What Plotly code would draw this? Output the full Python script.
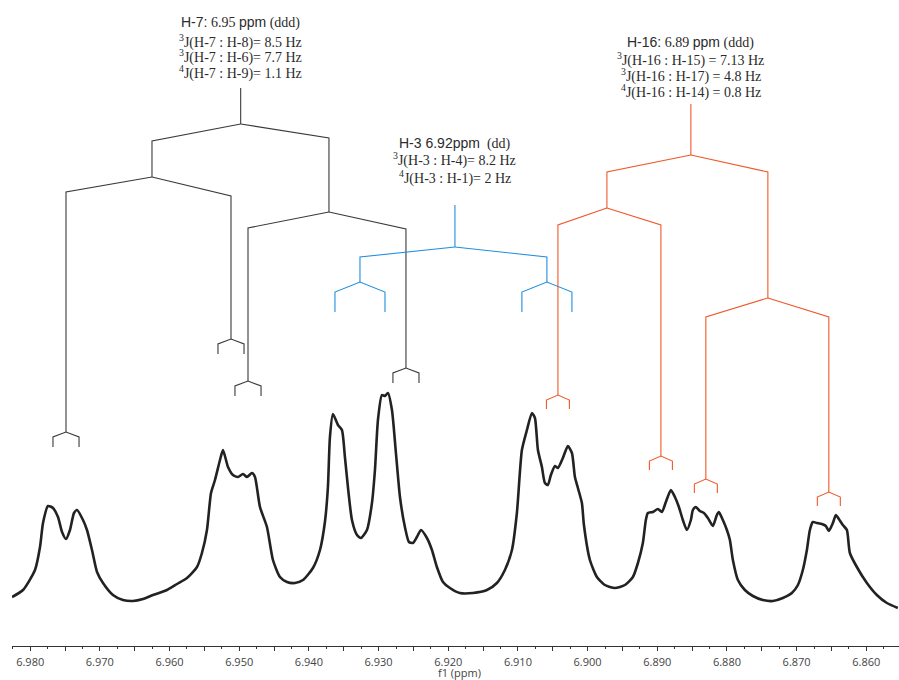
import plotly.graph_objects as go

# ---------------------------------------------------------------------------
# 1H NMR spectrum, aromatic region (f1, ppm) -- intensity in arbitrary units
# ---------------------------------------------------------------------------
shift_ppm = [
    6.98261, 6.98103, 6.97931, 6.97859, 6.97816, 6.97744, 6.97673, 6.97601, 6.97543, 6.97486,
    6.97429, 6.97371, 6.97328, 6.97242, 6.97185, 6.97113, 6.97041, 6.96955, 6.96812, 6.96668,
    6.96525, 6.96381, 6.96238, 6.96037, 6.95893, 6.95750, 6.95606, 6.95535, 6.95463, 6.95405,
    6.95348, 6.95276, 6.95233, 6.95161, 6.95090, 6.95018, 6.94946, 6.94889, 6.94817, 6.94774,
    6.94702, 6.94602, 6.94516, 6.94415, 6.94315, 6.94200, 6.94085, 6.93942, 6.93841, 6.93770,
    6.93727, 6.93698, 6.93655, 6.93583, 6.93526, 6.93483, 6.93440, 6.93382, 6.93310, 6.93253,
    6.93167, 6.93095, 6.93052, 6.93009, 6.92952, 6.92909, 6.92866, 6.92808, 6.92751, 6.92693,
    6.92622, 6.92564, 6.92507, 6.92450, 6.92392, 6.92306, 6.92234, 6.92163, 6.92076, 6.91976,
    6.91833, 6.91646, 6.91445, 6.91302, 6.91187, 6.91086, 6.91015, 6.90943, 6.90871, 6.90799,
    6.90756, 6.90713, 6.90656, 6.90613, 6.90570, 6.90527, 6.90469, 6.90426, 6.90355, 6.90283,
    6.90225, 6.90182, 6.90139, 6.90082, 6.90053, 6.89967, 6.89867, 6.89752, 6.89608, 6.89465,
    6.89350, 6.89278, 6.89207, 6.89164, 6.89135, 6.89063, 6.88991, 6.88934, 6.88877, 6.88805,
    6.88747, 6.88690, 6.88633, 6.88575, 6.88518, 6.88489, 6.88446, 6.88389, 6.88331, 6.88274,
    6.88202, 6.88145, 6.88116, 6.88059, 6.88001, 6.87958, 6.87915, 6.87843, 6.87743, 6.87628,
    6.87485, 6.87341, 6.87198, 6.87069, 6.86982, 6.86911, 6.86853, 6.86810, 6.86767, 6.86710,
    6.86638, 6.86581, 6.86538, 6.86480, 6.86437, 6.86394, 6.86337, 6.86279, 6.86236, 6.86136,
    6.85992, 6.85849, 6.85705, 6.85548,
]
intensity = [
    49, 56, 76, 99, 123, 140, 138, 129, 114, 107,
    116, 133, 136, 126, 116, 96, 74, 63, 51, 46,
    45, 47, 51, 56, 62, 68, 79, 93, 116, 153,
    166, 186, 196, 179, 171, 169, 172, 169, 173, 169,
    139, 119, 86, 69, 64, 63, 66, 78, 96, 124,
    159, 209, 232, 221, 216, 189, 159, 126, 111, 108,
    116, 143, 176, 226, 251, 250, 253, 236, 193, 149,
    119, 104, 103, 109, 116, 108, 96, 79, 64, 58,
    53, 53, 56, 63, 76, 96, 133, 196, 216, 233,
    228, 196, 179, 163, 161, 171, 180, 178, 188, 200,
    193, 169, 158, 143, 121, 86, 69, 61, 58, 61,
    69, 83, 103, 126, 133, 134, 137, 134, 144, 156,
    149, 139, 126, 116, 126, 136, 139, 135, 133, 128,
    120, 131, 134, 126, 116, 106, 86, 66, 56, 50,
    46, 45, 48, 53, 61, 76, 96, 116, 124, 123,
    122, 120, 115, 123, 131, 127, 121, 116, 93, 79,
    63, 51, 43, 38,
]

# ---------------------------------------------------------------------------
# Splitting trees: branch position (ppm), branch top / bottom (intensity units)
# and the parent branch each one splits from (None = root stem)
# ---------------------------------------------------------------------------
h7_ppm = [6.94979, 6.96252, 6.93712, 6.97486, 6.95118, 6.94874, 6.92607]
h7_top = [558, 505, 508, 454, 450, 418, 417]
h7_bottom = [522, 469, 434, 214, 307, 265, 278]
h7_parent = [None, 0, 0, 1, 1, 2, 2]
h7_fork = 0.00187

h3_ppm = [6.91904, 6.93267, 6.90584]
h3_top = [441, 389, 389]
h3_bottom = [399, 364, 364]
h3_parent = [None, 0, 0]
h3_fork = 0.00359

h16_ppm = [6.88518, 6.89723, 6.87413, 6.90426, 6.88948, 6.88303, 6.86538]
h16_top = [542, 474, 474, 421, 421, 329, 329]
h16_bottom = [491, 438, 348, 251, 190, 167, 154]
h16_parent = [None, 0, 0, 1, 1, 2, 2]
h16_fork = 0.00165

SANS = "Liberation Sans"
SERIF = "Liberation Serif"
TEXT = "#2b2b2b"


def sans(s):
    return f'<span style="font-family:{SANS}">{s}</span>'


h7_lines = [
    sans("H-7:") + " 6.95 " + sans("ppm") + " (ddd)",
    "<sup>3</sup>J(H-7 : H-8)= 8.5 Hz",
    "<sup>3</sup>J(H-7 : H-6)= 7.7 Hz",
    "<sup>4</sup>J(H-7 : H-9)= 1.1 Hz",
]
h3_lines = [
    sans("H-3 6.92ppm") + "  (dd)",
    "<sup>3</sup>J(H-3 : H-4)= 8.2 Hz",
    "<sup>4</sup>J(H-3 : H-1)= 2 Hz",
]
h16_lines = [
    sans("H-16:") + " 6.89 " + sans("ppm") + " (ddd)",
    "<sup>3</sup>J(H-16 : H-15) = 7.13 Hz",
    "<sup>3</sup>J(H-16 : H-17) = 4.8 Hz",
    "<sup>4</sup>J(H-16 : H-14) = 0.8 Hz",
]


def tree_path(xs, tops, bottoms, parents, half, drop, leg):
    """Polyline (with None breaks) for a multiplet splitting tree."""
    px, py = [], []

    def seg(points):
        for a, b in points:
            px.append(a)
            py.append(b)
        px.append(None)
        py.append(None)

    for i, x in enumerate(xs):
        p = parents[i]
        if p is None:
            seg([(x, tops[i]), (x, bottoms[i])])
        else:
            seg([(xs[p], bottoms[p]), (x, tops[i]), (x, bottoms[i])])
        if i not in parents:
            b = bottoms[i]
            seg([(x - half, b - drop - leg), (x - half, b - drop), (x, b),
                 (x + half, b - drop), (x + half, b - drop - leg)])
    return px, py


fig = go.Figure()

fig.add_trace(go.Scatter(
    x=shift_ppm, y=intensity, mode="lines",
    line=dict(color="#222222", width=2.6, shape="spline", smoothing=0.6),
    hoverinfo="skip", showlegend=False,
))

for xs, tops, bots, pars, half, drop, leg, color in [
    (h7_ppm, h7_top, h7_bottom, h7_parent, h7_fork, 5, 10, "#3a3a3a"),
    (h3_ppm, h3_top, h3_bottom, h3_parent, h3_fork, 10, 20, "#1f8fe0"),
    (h16_ppm, h16_top, h16_bottom, h16_parent, h16_fork, 5, 9, "#f0582a"),
]:
    tx, ty = tree_path(xs, tops, bots, pars, half, drop, leg)
    fig.add_trace(go.Scatter(
        x=tx, y=ty, mode="lines", line=dict(color=color, width=1.1),
        hoverinfo="skip", showlegend=False,
    ))

annotations = []
for center, lines, ys in [
    (h7_ppm[0], h7_lines, [624, 605, 590, 574]),
    (h3_ppm[0], h3_lines, [503, 487, 469]),
    (h16_ppm[0], h16_lines, [604, 587, 571, 555]),
]:
    for txt, yv in zip(lines, ys):
        annotations.append(dict(
            x=center, y=yv, xref="x", yref="y", text=txt, showarrow=False,
            xanchor="center", yanchor="middle",
            font=dict(family=SERIF, size=14, color=TEXT),
        ))

annotations.append(dict(
    x=0.505, y=-0.041, xref="paper", yref="paper", text="f1 (ppm)",
    showarrow=False, xanchor="center", yanchor="middle",
    font=dict(family="Open Sans", size=11, color="#444444"),
))

major = [round(6.860 + 0.005 * k, 3) for k in range(25)]
minor = [round(6.8575 + 0.005 * k, 4) for k in range(26)]
labels = [f"{v:.3f}" if round(v * 1000) % 10 == 0 else "" for v in major]

fig.update_layout(
    width=899, height=680,
    margin=dict(l=12, r=0, t=0, b=34),
    paper_bgcolor="white", plot_bgcolor="white",
    annotations=annotations,
    xaxis=dict(
        range=[6.98261, 6.85531],
        showline=True, linecolor="#333333", linewidth=1,
        ticks="outside", ticklen=4, tickcolor="#333333", tickwidth=1,
        tickmode="array", tickvals=major, ticktext=labels,
        ticklabelstandoff=2,
        tickfont=dict(family="Open Sans", size=11, color="#444444"),
        minor=dict(ticks="outside", ticklen=2, tickcolor="#333333",
                   tickmode="array", tickvals=minor),
        showgrid=False, zeroline=False,
    ),
    yaxis=dict(range=[0, 646], visible=False, fixedrange=True),
)

fig.write_html("out.html")
